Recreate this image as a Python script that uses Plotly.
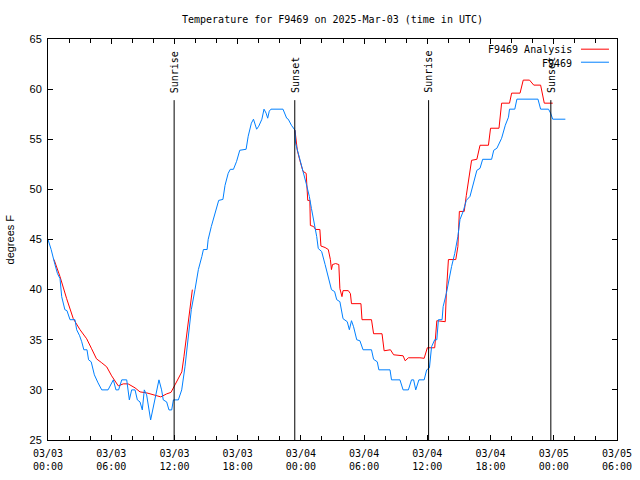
import pandas as pd
import plotly.graph_objects as go

START = "2025-03-03 00:00"

# Observed station temperature (F9469): hours after start, degrees F
obs_hours = [0.0, 0.3, 0.66, 0.9, 1.14, 1.3, 1.6, 1.8, 2.09, 2.56, 2.72, 3.0, 3.2, 3.4, 3.7, 3.85,
             4.1, 4.4, 4.75, 5.1, 5.7, 6.2, 6.45, 6.7, 7.0, 7.47, 7.72, 7.94, 8.26, 8.48, 8.73, 8.95,
             9.14, 9.36, 9.74, 10.15, 10.53, 10.78, 10.94, 11.26, 11.48, 11.74, 11.9, 12.37, 12.69,
             13.0, 13.3, 13.6, 13.95, 14.27, 14.6, 14.75, 15.1, 15.2, 15.5, 15.85, 16.2, 16.6, 16.8,
             17.1, 17.3, 17.6, 17.9, 18.2, 18.8, 19.0, 19.3, 19.5, 19.8, 20.0, 20.3, 20.5, 20.7,
             20.85, 21.0, 21.16, 22.3, 22.65, 22.8, 23.1, 23.44, 23.5, 23.66, 23.9, 24.2, 24.5, 24.8,
             25.0, 25.24, 25.5, 25.65, 25.97, 26.3, 26.6, 26.9, 27.2, 27.4, 27.7, 28.0, 28.4, 28.6,
             28.8, 29.0, 29.3, 29.6, 29.9, 30.7, 30.9, 31.25, 31.4, 32.46, 32.6, 33.4, 33.7, 34.2,
             34.5, 34.7, 34.9, 35.2, 35.7, 35.94, 36.2, 36.4, 36.7, 36.9, 37.05, 37.4, 37.5, 37.8,
             38.3, 38.6, 38.9, 39.1, 39.4, 39.7, 40.05, 40.4, 40.7, 41.0, 41.25, 42.1, 42.3, 42.6,
             42.9, 43.05, 43.4, 43.7, 43.8, 44.3, 44.5, 46.5, 46.75, 47.5, 47.7, 47.9, 49.1]
obs_temps = [45.0, 44.0, 42.5, 41.6, 41.1, 39.3, 38.0, 37.9, 37.0, 37.0, 36.0, 35.4, 34.8, 34.0, 34.0, 33.0,
             32.8, 31.5, 30.7, 30.0, 30.0, 31.0, 30.0, 30.0, 31.0, 31.0, 29.0, 30.0, 30.0, 29.0, 28.8, 28.0,
             30.0, 29.5, 27.0, 29.0, 31.0, 30.0, 29.0, 28.8, 28.0, 28.0, 29.0, 29.0, 30.0,
             32.3, 35.3, 38.0, 40.0, 42.0, 43.3, 44.0, 44.0, 45.0, 46.3, 47.6, 48.9, 49.0, 50.4,
             51.6, 52.0, 52.0, 52.8, 53.9, 54.0, 55.3, 56.6, 57.0, 56.0, 56.3, 57.0, 58.0, 57.6,
             57.1, 57.8, 58.0, 58.0, 57.1, 57.0, 56.4, 55.9, 54.6, 53.9, 52.9, 51.8, 50.6, 49.3,
             48.1, 46.9, 45.3, 44.1, 43.8, 42.5, 41.1, 40.0, 39.8, 39.0, 38.8, 37.1, 36.8, 36.0,
             36.9, 36.3, 35.0, 34.9, 34.0, 34.0, 33.05, 32.8, 32.0, 32.0, 31.0, 31.0, 30.0, 30.0,
             31.0, 31.0, 30.0, 31.0, 31.0, 32.0, 32.2, 34.3, 35.0, 35.0, 37.0, 37.0, 38.3, 39.6,
             42.3, 43.6, 45.3, 47.0, 47.8, 48.9, 49.3, 50.6, 51.9, 52.1, 53.0, 53.0, 53.9, 54.1,
             54.9, 55.1, 56.4, 57.2, 58.0, 58.0, 59.0, 59.0, 58.0, 58.0, 57.6, 57.0, 57.0]

# Analysis temperature: night 1 and night/day 2 (gap during day 1)
ana1_hours = [0.57, 1.14, 1.77, 2.4, 3.04, 3.67, 4.14, 4.6, 5.1, 5.57, 6.04, 6.67, 7.15, 7.6, 8.26,
              8.73, 9.37, 10.0, 10.7, 11.26, 11.67, 12.05, 12.37, 12.7, 12.9, 13.16, 13.4, 13.7]
ana1_temps = [43.0, 41.3, 39.1, 37.1, 36.0, 35.1, 34.1, 33.1, 32.7, 32.3, 31.4, 30.4, 30.6, 30.6, 30.2,
              29.8, 29.7, 29.5, 29.3, 29.6, 29.75, 30.5, 31.2, 31.8, 33.3, 35.3, 37.6, 40.0]
ana2_hours = [23.44, 23.66, 23.9, 24.2, 24.5, 24.65, 24.85, 24.9, 25.2, 25.4, 25.8, 25.9, 26.3, 26.6,
              26.8, 26.9, 27.0, 27.3, 27.6, 27.7, 27.9, 28.0, 28.5, 28.7, 28.8, 29.7, 29.8, 30.7,
              30.9, 31.7, 31.9, 32.5, 32.8, 33.7, 33.9, 34.2, 35.3, 35.7, 36.0, 36.7, 36.9, 37.7,
              37.8, 38.0, 38.7, 38.9, 39.04, 39.5, 39.7, 40.0, 40.2, 40.7, 41.0, 41.8, 42.0, 42.8,
              43.05, 43.8, 44.0, 44.8, 45.1, 45.7, 46.1, 46.75, 47.1, 47.9]
ana2_temps = [55.9, 53.9, 52.9, 51.8, 51.6, 48.9, 48.9, 46.4, 46.3, 46.0, 46.0, 44.35, 44.2, 44.0,
              43.0, 42.0, 42.5, 42.6, 42.5, 40.1, 39.3, 39.9, 39.9, 39.6, 38.6, 38.6, 37.0, 37.0,
              35.6, 35.6, 33.9, 34.0, 33.5, 33.4, 32.9, 33.2, 33.2, 33.15, 34.2, 34.2, 36.9, 36.8,
              39.6, 43.0, 43.0, 44.3, 47.8, 47.8, 49.4, 51.6, 52.9, 53.0, 54.4, 54.4, 56.1, 56.1,
              58.6, 58.6, 59.6, 59.6, 60.9, 60.9, 60.4, 60.4, 58.6, 58.6]

sun_labels = ["Sunrise", "Sunset", "Sunrise", "Sunset"]
sun_hours = [11.97, 23.42, 36.12, 47.72]

tick_vals = ["2025-03-03 00:00", "2025-03-03 06:00", "2025-03-03 12:00", "2025-03-03 18:00",
             "2025-03-04 00:00", "2025-03-04 06:00", "2025-03-04 12:00", "2025-03-04 18:00",
             "2025-03-05 00:00", "2025-03-05 06:00"]
tick_text = ["03/03<br>00:00", "03/03<br>06:00", "03/03<br>12:00", "03/03<br>18:00",
             "03/04<br>00:00", "03/04<br>06:00", "03/04<br>12:00", "03/04<br>18:00",
             "03/05<br>00:00", "03/05<br>06:00"]

start = pd.Timestamp(START)
def to_time(hours):
    return [start + pd.Timedelta(hours=h) for h in hours]

RED = "#ff0000"
BLUE = "#0080ff"
MONO = "DejaVu Sans Mono"
SANS = "Liberation Sans"

fig = go.Figure()
fig.add_trace(go.Scatter(x=to_time(ana1_hours), y=ana1_temps, mode="lines",
                         line=dict(color=RED, width=1), name="F9469 Analysis", showlegend=False))
fig.add_trace(go.Scatter(x=to_time(ana2_hours), y=ana2_temps, mode="lines",
                         line=dict(color=RED, width=1), name="F9469 Analysis", showlegend=False))
fig.add_trace(go.Scatter(x=to_time(obs_hours), y=obs_temps, mode="lines",
                         line=dict(color=BLUE, width=1), name="F9469", showlegend=False))

for lab, h in zip(sun_labels, sun_hours):
    t = start + pd.Timedelta(hours=h)
    fig.add_shape(type="line", xref="x", yref="y", x0=t, x1=t, y0=25, y1=58.9,
                  line=dict(color="black", width=1))
    fig.add_annotation(x=t, y=59.5, xref="x", yref="y", text=lab, textangle=-90,
                       showarrow=False, xanchor="center", yanchor="bottom",
                       font=dict(family=MONO, size=10, color="black"), borderpad=0)

# legend (gnuplot style: text then line sample)
legend_items = [("F9469 Analysis", RED, 0.9726), ("F9469", BLUE, 0.9401)]
for text, col, yp in legend_items:
    fig.add_annotation(x=0.9244, y=yp, xref="paper", yref="paper", text=text, showarrow=False,
                       xanchor="right", yanchor="middle",
                       font=dict(family=MONO, size=10, color="black"))
    fig.add_shape(type="line", xref="paper", yref="paper", x0=0.9367, x1=0.9859,
                  y0=yp + 0.002, y1=yp + 0.002, line=dict(color=col, width=1))

fig.add_annotation(x=-0.0668, y=0.5, xref="paper", yref="paper", text="degrees F",
                   textangle=-90, showarrow=False, xanchor="center", yanchor="middle",
                   font=dict(family=SANS, size=11, color="black"))

fig.update_layout(
    width=640, height=480,
    margin=dict(l=48, r=23, t=39, b=40, autoexpand=False),
    paper_bgcolor="white", plot_bgcolor="white",
    title=dict(text="Temperature for F9469 on 2025-Mar-03 (time in UTC)",
               x=(48 + 617) / 2 / 640, xanchor="center", y=1 - 19 / 480, yanchor="middle",
               font=dict(family=MONO, size=10, color="black")),
    showlegend=False,
)
fig.update_xaxes(
    type="date", range=[tick_vals[0], tick_vals[-1]], automargin=False,
    tickvals=tick_vals, ticktext=tick_text,
    showgrid=False, zeroline=False,
    showline=True, linecolor="black", linewidth=1, mirror="ticks",
    ticks="inside", ticklen=5, tickcolor="black", ticklabelstandoff=4,
    minor=dict(dtick=2 * 3600 * 1000, ticks="inside", ticklen=4, tickcolor="black", showgrid=False),
    tickfont=dict(family=MONO, size=10, color="black"),
)
fig.update_yaxes(
    range=[25, 65], tickvals=[25, 30, 35, 40, 45, 50, 55, 60, 65], automargin=False,
    showgrid=False, zeroline=False,
    showline=True, linecolor="black", linewidth=1, mirror="ticks",
    ticks="inside", ticklen=5, tickcolor="black", ticklabelstandoff=3,
    tickfont=dict(family=SANS, size=11, color="black"),
)

fig.write_html("out.html", config={"displayModeBar": False},
               post_script="document.body.style.margin='0px';")
